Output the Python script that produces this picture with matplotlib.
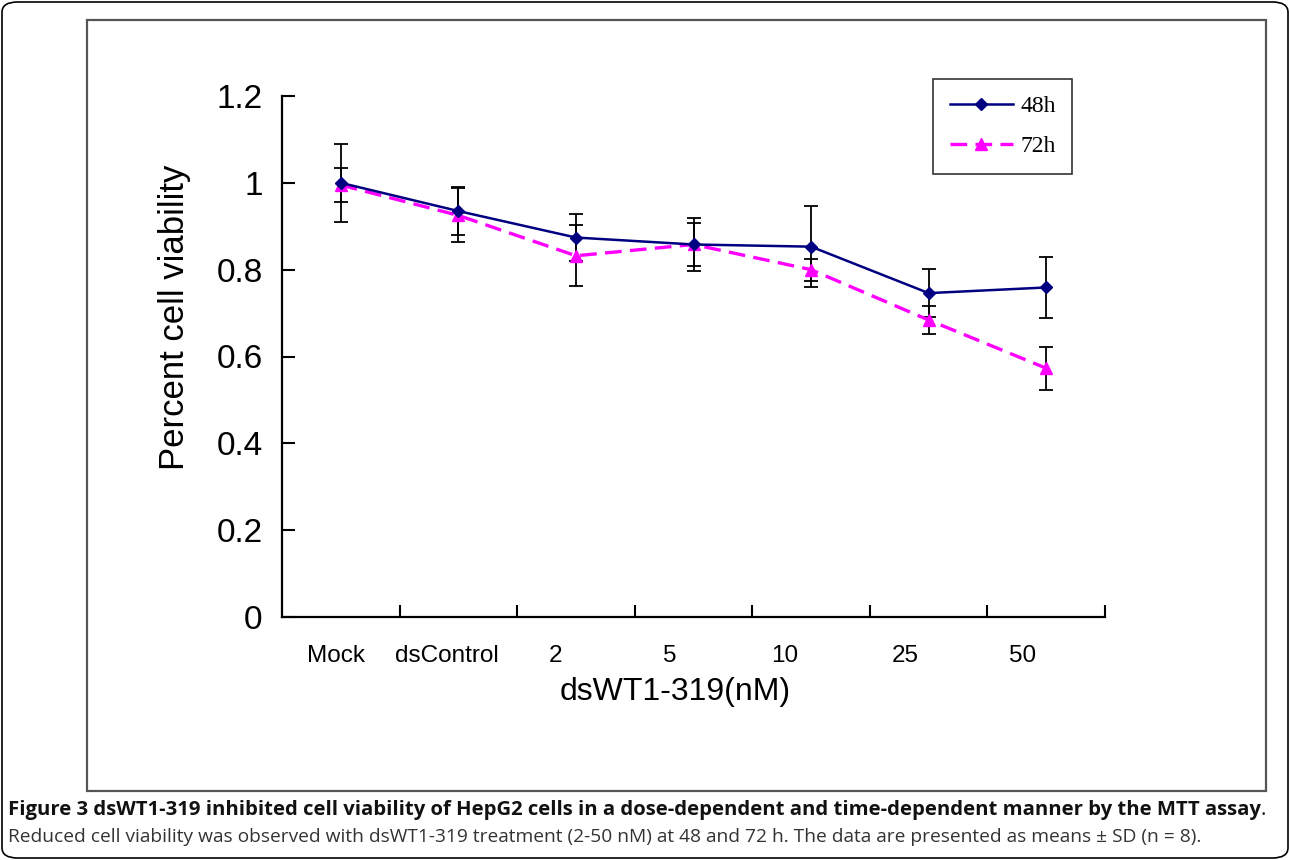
import numpy as np
import matplotlib.pyplot as plt
from matplotlib.patches import Rectangle, FancyBboxPatch
from matplotlib.transforms import ScaledTranslation

# values (mean and SD)
categories = ["Mock", "dsControl", "2", "5", "10", "25", "50"]
viab_48h = [1.00, 0.935, 0.874, 0.858, 0.853, 0.746, 0.759]
sd_48h = [0.09, 0.055, 0.055, 0.060, 0.093, 0.055, 0.071]
viab_72h = [0.995, 0.925, 0.832, 0.858, 0.800, 0.684, 0.573]
sd_72h = [0.04, 0.062, 0.070, 0.050, 0.025, 0.033, 0.050]
yticks = [0, 0.2, 0.4, 0.6, 0.8, 1.0, 1.2]
ytick_labels = ["0", "0.2", "0.4", "0.6", "0.8", "1", "1.2"]

caption_bold = ("Figure 3 dsWT1-319 inhibited cell viability of HepG2 cells in a "
                "dose-dependent and time-dependent manner by the MTT assay")
caption_text = ("Reduced cell viability was observed with dsWT1-319 treatment (2-50 nM) "
                "at 48 and 72 h. The data are presented as means \u00b1 SD (n = 8).")

# label nudges (pixels) - the original tick labels sit left of the points
label_shift_px = [-5, -11, -20, -24, -26, -23, -24]

W, H = 1290, 860
fig = plt.figure(figsize=(W / 100, H / 100), dpi=100)
plt.rcParams["font.family"] = ["Liberation Sans", "DejaVu Sans"]

# outer rounded border and the chart frame
fig.patches.append(FancyBboxPatch((2 / W, 2 / H), 1 - 4 / W, 1 - 4 / H,
                                  boxstyle="round,pad=0,rounding_size=0.012",
                                  transform=fig.transFigure, fill=False,
                                  edgecolor="black", linewidth=1.2))
fig.patches.append(Rectangle((87 / W, 1 - 791 / H), (1266 - 87) / W, (791 - 20) / H,
                             transform=fig.transFigure, fill=False,
                             edgecolor="#555555", linewidth=1.6))

ax = fig.add_axes([282 / W, 1 - 617 / H, (1105 - 282) / W, (617 - 96) / H])
x = np.arange(len(categories))

ax.errorbar(x, viab_48h, yerr=sd_48h, fmt="none", ecolor="black",
            elinewidth=1.3, capsize=5, capthick=1.3, zorder=2)
ax.errorbar(x, viab_72h, yerr=sd_72h, fmt="none", ecolor="black",
            elinewidth=1.3, capsize=5, capthick=1.3, zorder=2)
l48, = ax.plot(x, viab_48h, color="#000080", linewidth=1.8, marker="D",
               markersize=6, label="48h", zorder=4)
l72, = ax.plot(x, viab_72h, color="#FF00FF", linewidth=2.4, linestyle=(0, (5, 2.5)),
               marker="^", markersize=8, label="72h", zorder=3)

ax.set_xlim(-0.5, len(categories) - 0.5)
ax.set_ylim(0, 1.2)
ax.set_yticks(yticks)
ax.set_yticklabels(ytick_labels, fontsize=24)
ax.set_xticks(x + 0.5)
ax.set_xticklabels([])
ax.set_xticks(x, minor=True)
ax.set_xticklabels(categories, minor=True, fontsize=17.5)
ax.tick_params(axis="x", which="minor", length=0, pad=20)
ax.tick_params(axis="x", which="major", direction="in", length=9, width=1.5)
ax.tick_params(axis="y", direction="in", length=9, width=1.5, pad=14)
for lab, dx in zip(ax.get_xticklabels(minor=True), label_shift_px):
    lab.set_transform(lab.get_transform() + ScaledTranslation(dx / 100, 0, fig.dpi_scale_trans))

for side in ("top", "right"):
    ax.spines[side].set_visible(False)
for side in ("left", "bottom"):
    ax.spines[side].set_linewidth(1.6)

ax.set_ylabel("Percent cell viability", fontsize=25)
ax.yaxis.set_label_coords(-0.11, 0.575)
ax.set_xlabel("dsWT1-319(nM)", fontsize=23)
ax.xaxis.set_label_coords(0.4775, -0.115)

leg = ax.legend(handles=[l48, l72], loc="upper left",
                bbox_to_anchor=(933 / W, 1 - 79 / H), bbox_transform=fig.transFigure,
                borderaxespad=0, frameon=True, fancybox=False, shadow=False,
                handlelength=2.7, handletextpad=0.3, labelspacing=0.8, borderpad=0.7,
                prop={"family": "Liberation Serif", "size": 17})
leg.get_frame().set_edgecolor("black")
leg.get_frame().set_linewidth(1.2)

# caption, sized so each line spans the same width as in the original
t1 = fig.text(8 / W, 1 - 815 / H, caption_bold, fontsize=14, fontweight="bold",
              family="Open Sans", color="#111111")
t2 = fig.text(8 / W, 1 - 842 / H, caption_text, fontsize=14, family="Open Sans",
              color="#333333")
renderer = fig.canvas.get_renderer()
for t, target in ((t1, 1255), (t2, 1200)):
    w = t.get_window_extent(renderer).width
    t.set_fontsize(14 * target / w)
bb = t1.get_window_extent(renderer)
fig.text(bb.x1 / W, 1 - 815 / H, ".", fontsize=t1.get_fontsize(), family="Open Sans",
         color="#111111")

fig.savefig("out.png", dpi=100)
